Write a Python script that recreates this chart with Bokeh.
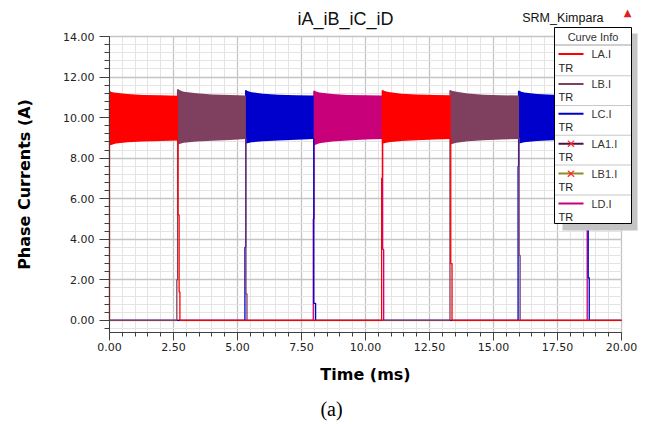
import numpy as np
from bokeh.plotting import figure
from bokeh.models import Range1d, FixedTicker, NumeralTickFormatter, Label, BoxAnnotation
from bokeh.embed import file_html
from bokeh.resources import INLINE

# ---------------- data ----------------
x_ticks = [0.0, 2.5, 5.0, 7.5, 10.0, 12.5, 15.0, 17.5, 20.0]
y_ticks = [0, 2, 4, 6, 8, 10, 12, 14]

# phase-current traces: switching edges + zero segments (time ms, current A)
LA_t = [0.00, 0.00, 2.68, 2.68, 2.72, 2.72, 2.75, 2.75, 10.63, 10.63, 10.66, 10.66, 13.33, 13.33, 13.38, 13.38, 20.00]
LA_i = [0.00, 11.28, 8.87, 5.20, 5.20, 1.40, 1.40, 0.00, 0.00, 7.00, 7.00, 11.34, 8.95, 2.80, 2.80, 0.00, 0.00]
LB_t = [0.00, 2.63, 2.63, 2.66, 2.66, 5.33, 5.33, 5.37, 5.37, 13.30, 13.30, 16.00, 16.00, 16.04, 16.04, 20.00]
LB_i = [0.00, 0.00, 2.00, 2.00, 11.38, 8.95, 1.30, 1.30, 0.00, 0.00, 11.34, 8.95, 3.20, 3.20, 0.00, 0.00]
LC_t = [0.00, 5.29, 5.29, 5.32, 5.32, 7.98, 7.98, 8.05, 8.05, 15.96, 15.96, 15.98, 15.98, 18.70, 18.70, 18.74, 18.74, 20.00]
LC_i = [0.00, 0.00, 3.60, 3.60, 11.34, 8.95, 0.84, 0.84, 0.00, 0.00, 7.60, 7.60, 11.31, 8.92, 2.10, 2.10, 0.00, 0.00]
LD_t = [0.00, 7.96, 7.96, 7.99, 7.99, 10.67, 10.67, 10.71, 10.71, 18.66, 18.66, 20.00]
LD_i = [0.00, 0.00, 5.00, 5.00, 11.31, 8.95, 3.50, 3.50, 0.00, 0.00, 11.31, 11.13]

# chopping bands (envelope of the hysteresis ripple)
LA_band1_t = [0.00, 0.25, 0.70, 1.30, 2.00, 2.68]
LA_band1_hi = [11.28, 11.22, 11.16, 11.12, 11.10, 11.08]
LA_band1_lo = [8.62, 8.72, 8.79, 8.82, 8.85, 8.87]
LB_band1_t = [2.66, 2.90, 3.40, 4.00, 4.70, 5.33]
LB_band1_hi = [11.38, 11.28, 11.20, 11.14, 11.11, 11.09]
LB_band1_lo = [8.67, 8.76, 8.82, 8.86, 8.90, 8.95]
LC_band1_t = [5.31, 5.55, 6.00, 6.60, 7.30, 7.98]
LC_band1_hi = [11.34, 11.25, 11.18, 11.13, 11.10, 11.09]
LC_band1_lo = [8.71, 8.78, 8.83, 8.87, 8.91, 8.95]
LD_band1_t = [7.97, 8.20, 8.70, 9.30, 10.00, 10.67]
LD_band1_hi = [11.31, 11.24, 11.17, 11.12, 11.10, 11.09]
LD_band1_lo = [8.62, 8.74, 8.82, 8.87, 8.92, 8.95]
LA_band2_t = [10.64, 10.90, 11.40, 12.00, 12.70, 13.33]
LA_band2_hi = [11.34, 11.26, 11.18, 11.14, 11.12, 11.10]
LA_band2_lo = [8.71, 8.78, 8.84, 8.88, 8.92, 8.95]
LB_band2_t = [13.31, 13.55, 14.00, 14.60, 15.30, 16.00]
LB_band2_hi = [11.34, 11.27, 11.19, 11.13, 11.10, 11.09]
LB_band2_lo = [8.67, 8.76, 8.83, 8.88, 8.92, 8.95]
LC_band2_t = [15.97, 16.20, 16.70, 17.30, 18.00, 18.70]
LC_band2_hi = [11.31, 11.24, 11.17, 11.13, 11.11, 11.10]
LC_band2_lo = [8.71, 8.78, 8.84, 8.88, 8.90, 8.92]
LD_band2_t = [18.66, 18.90, 19.40, 20.00]
LD_band2_hi = [11.31, 11.24, 11.17, 11.13]
LD_band2_lo = [8.62, 8.74, 8.82, 8.86]

legend_names = ["LA.I", "LB.I", "LC.I", "LA1.I", "LB1.I", "LD.I"]

# ---------------- layout / styling ----------------
C_LA = "#ff0000"
C_LB = "#7f3f5f"
C_LC = "#0000cc"
C_LD = "#c8007a"
C_LA1 = "#4a1050"
C_LB1 = "#8c8c28"
FONT = "DejaVu Sans"
SANS = "Liberation Sans"

W, H = 651, 424
FL, FR, FT, FB = 109, 621, 36, 332          # plot-area box in canvas pixels
X0, X1 = 0.0, 20.0
Y0, Y1 = -0.6, 14.0
sx = (X1 - X0) / (FR - FL)
sy = (Y1 - Y0) / (FB - FT)
xr = Range1d(X0 - FL * sx, X1 + (W - FR) * sx)
yr = Range1d(Y0 - (H - FB) * sy, Y1 + FT * sy)

p = figure(width=W, height=H, output_backend="svg", toolbar_location=None,
           x_range=xr, y_range=yr, min_border=0,
           min_border_left=0, min_border_right=0, min_border_top=0, min_border_bottom=0,
           background_fill_color="white", border_fill_color="white")
p.extra_x_ranges = {"px": Range1d(0, W)}
p.extra_y_ranges = {"py": Range1d(H, 0)}
p.outline_line_color = None

xt = FixedTicker(ticks=x_ticks, minor_ticks=[round(0.5 * k, 2) for k in range(41)])
yt = FixedTicker(ticks=y_ticks, minor_ticks=[round(-0.4 + 0.4 * k, 2) for k in range(37)])
p.xaxis.ticker = xt
p.yaxis.ticker = yt
p.xgrid.ticker = xt
p.ygrid.ticker = yt
p.xgrid.bounds = (X0, X1)
p.ygrid.bounds = (Y0, Y1)
p.xgrid.cross_bounds = (Y0, Y1)
p.ygrid.cross_bounds = (X0, X1)
for g in (p.xgrid, p.ygrid):
    g.grid_line_color = "#c4c4c4"
    g.grid_line_width = 1.3
    g.minor_grid_line_color = "#e4e4e4"
    g.minor_grid_line_width = 1

p.xaxis.fixed_location = Y0
p.yaxis.fixed_location = X0
p.xaxis.bounds = (X0, X1)
p.yaxis.bounds = (Y0, Y1)

for ax in (p.xaxis, p.yaxis):
    ax.formatter = NumeralTickFormatter(format="0.00")
    ax.axis_line_color = "#404040"
    ax.major_tick_line_color = "#404040"
    ax.minor_tick_line_color = "#404040"
    ax.major_tick_in = 0
    ax.minor_tick_in = 0
    ax.major_label_text_font = FONT
    ax.major_label_text_font_size = "11px"
    ax.major_label_text_color = "#222222"
    ax.axis_label_text_font = FONT
    ax.axis_label_text_font_style = "bold"
    ax.axis_label_text_font_size = "16px"
    ax.axis_label_text_color = "#000000"

p.xaxis.major_tick_out = 8
p.xaxis.minor_tick_out = 4
p.xaxis.major_label_standoff = 2
p.xaxis.axis_label = "Time (ms)"
p.xaxis.axis_label_standoff = 11
p.yaxis.major_tick_out = 10
p.yaxis.minor_tick_out = 5
p.yaxis.major_label_standoff = 5
p.yaxis.axis_label = "Phase Currents (A)"
p.yaxis.axis_label_standoff = 26

# ---------------- curves ----------------
bands = [
    (C_LD, [(LD_band1_t, LD_band1_lo, LD_band1_hi), (LD_band2_t, LD_band2_lo, LD_band2_hi)], LD_t, LD_i),
    (C_LC, [(LC_band1_t, LC_band1_lo, LC_band1_hi), (LC_band2_t, LC_band2_lo, LC_band2_hi)], LC_t, LC_i),
    (C_LB, [(LB_band1_t, LB_band1_lo, LB_band1_hi), (LB_band2_t, LB_band2_lo, LB_band2_hi)], LB_t, LB_i),
    (C_LA, [(LA_band1_t, LA_band1_lo, LA_band1_hi), (LA_band2_t, LA_band2_lo, LA_band2_hi)], LA_t, LA_i),
]
for col, bl, tt, ii in bands:
    for bt, blo, bhi in bl:
        p.varea(x=bt, y1=blo, y2=bhi, fill_color=col, fill_alpha=1.0)
    p.line(tt, ii, line_color=col, line_width=1.3)

# ---------------- header texts ----------------
def lab(x, y, text, size, font=SANS, align="left", baseline="middle", color="#000000", style="normal"):
    p.add_layout(Label(x=x, y=y, x_range_name="px", y_range_name="py", text=text,
                       text_font=font, text_font_size=size, text_align=align,
                       text_baseline=baseline, text_color=color, text_font_style=style))

lab(345, 18, "iA_iB_iC_iD", "18px", align="center", baseline="alphabetic", color="#111111")
lab(603, 17, "SRM_Kimpara", "12.5px", align="right", baseline="alphabetic", color="#111111")
lab(627, 12, "\u25b2", "10px", font=FONT, align="center", color="#e02020")
lab(331, 408, "(a)", "20px", font="Liberation Serif", align="center")

# ---------------- legend panel ("Curve Info") ----------------
def box(l, r, t, b, fill, line=None):
    p.add_layout(BoxAnnotation(left=l, right=r, top=t, bottom=b, x_range_name="px", y_range_name="py",
                               fill_color=fill, fill_alpha=1.0,
                               line_color=line, line_alpha=1.0 if line else 0.0, line_width=1))

box(562, 637, 33, 230, "#c4c4c4")
box(554, 631, 27, 223, "#ffffff", "#000000")
lab(592.5, 36.5, "Curve Info", "11px", align="center", color="#333333")
box(554.5, 630.5, 44, 45, "#a0a0a0")
sw_cols = [C_LA, C_LB, C_LC, C_LA1, C_LB1, C_LD]
for k, (nm, col) in enumerate(zip(legend_names, sw_cols)):
    yc = 53.5 + 29.9 * k
    box(558, 583, yc - 1, yc + 1, col)
    if nm in ("LA1.I", "LB1.I"):
        lab(570.5, yc + 0.5, "\u2715", "12px", font=FONT, align="center", color="#ff2020", style="bold")
    lab(591, yc, nm, "11px", color="#333333")
    lab(558, yc + 13.5, "TR", "11px", color="#222222")
    if k < 5:
        ys = 74.7 + 29.8 * k
        box(554.5, 630.5, ys, ys + 1, "#c8c8c8")

open("out.html", "w").write(file_html(p, INLINE))
